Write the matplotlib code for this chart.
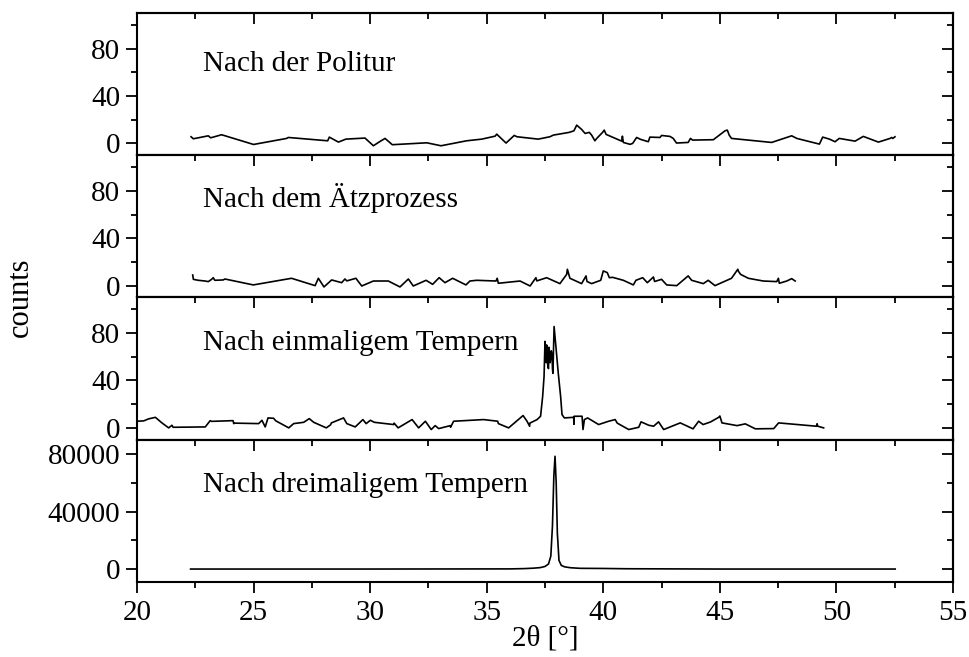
import matplotlib
matplotlib.use('Agg')
import matplotlib.pyplot as plt
from matplotlib.ticker import MultipleLocator, FixedLocator

plt.rcParams['font.family'] = ['Liberation Serif', 'DejaVu Serif']

# Nach der Politur
x1 = [22.32, 22.42, 23.06, 23.16, 23.63, 25.0, 26.42, 26.49, 28.18, 28.25,
      28.64, 28.96, 29.78, 30.14, 30.38, 30.64, 30.95, 32.43, 33.04, 34.14,
      34.79, 35.36, 35.43, 35.83, 36.18, 36.3, 37.21, 37.71, 37.86, 38.54,
      38.74, 38.86, 39.07, 39.22, 39.40, 39.50, 39.64, 39.72, 39.97, 40.04,
      40.12, 40.79, 40.82, 40.86, 41.15, 41.26, 41.43, 41.60, 41.93, 42.0,
      42.43, 42.50, 42.86, 43.0, 43.14, 43.64, 43.74, 43.83, 44.72, 45.22,
      45.32, 45.40, 45.50, 47.22, 48.08, 48.30, 49.27, 49.41, 49.70, 49.94,
      50.12, 50.80, 51.15, 51.3, 51.80, 52.30, 52.37, 52.42, 52.51]
y1 = [5.6, 3.9, 6.4, 4.7, 7.3, -0.9, 4.2, 5.0, 2.2, 5.3,
      1.1, 3.6, 4.5, -2.0, 1.1, 4.2, -1.1, 0.5, -2.0, 2.2,
      3.6, 6.1, 7.8, 0.3, 6.7, 5.6, 3.6, 5.6, 7.0, 9.3,
      10.6, 15.4, 11.8, 8.4, 9.3, 7.0, 2.2, 4.2, 9.3, 11.2,
      7.6, 1.9, 6.1, 0.8, -0.8, 0.0, 5.0, 3.4, 1.4, 5.3,
      5.0, 6.7, 5.9, 4.2, 0.3, 0.8, 4.2, 2.8, 3.1, 10.6,
      11.2, 7.0, 4.2, 0.8, 6.4, 4.2, -0.6, 5.3, 3.6, 1.4,
      4.2, 1.9, 5.9, 4.8, 1.1, 4.2, 5.0, 4.2, 5.6]

# Nach dem Aetzprozess
x2 = [22.39, 22.42, 22.63, 22.92, 23.06, 23.20, 23.27, 23.34, 23.70, 23.77,
      24.99, 26.63, 27.64, 27.78, 28.02, 28.35, 28.78, 28.92, 29.0, 29.39,
      29.64, 30.14, 30.78, 31.28, 31.64, 31.85, 32.40, 32.68, 32.96, 33.21,
      33.54, 34.11, 34.28, 34.57, 35.40, 35.45, 35.50, 36.43, 36.86, 37.11,
      37.15, 37.57, 38.14, 38.43, 38.46, 38.54, 38.57, 39.07, 39.26, 39.3,
      39.50, 39.89, 40.0, 40.17, 40.26, 40.4, 40.86, 41.29, 41.40, 41.69,
      41.89, 42.15, 42.2, 42.50, 42.72, 43.15, 43.64, 43.79, 44.29, 44.50,
      44.79, 45.50, 45.77, 45.8, 45.89, 46.22, 46.86, 47.44, 47.51, 47.55,
      47.87, 48.08, 48.23]
y2 = [9.0, 5.3, 4.5, 3.9, 3.4, 5.3, 6.7, 4.5, 4.8, 5.6,
      0.6, 6.2, 0.0, 6.2, -1.1, 4.8, 2.5, 5.6, 4.0, 6.2,
      -0.3, 3.9, 3.9, -1.1, 5.6, -0.3, 4.5, 1.1, 6.7, 2.5,
      6.2, 0.6, 3.9, 4.5, 3.9, 6.2, 2.0, 3.9, -0.3, 6.7,
      4.0, 6.7, 1.7, 9.5, 13.8, 8.2, 6.2, 1.7, 8.2, 3.5,
      1.7, 4.5, 12.4, 11.0, 6.7, 7.0, 4.5, 0.6, 4.5, 6.7,
      2.5, 7.3, 3.5, 5.3, 0.6, 0.0, 8.2, 4.5, 1.7, 4.5,
      0.0, 6.2, 13.8, 12.0, 9.5, 6.2, 3.9, 3.4, 6.2, 2.0,
      3.9, 5.9, 3.9]

# Nach einmaligem Tempern
x3 = [20.0, 20.29, 20.50, 20.79, 21.07, 21.36, 21.50, 21.55, 22.93, 23.14,
      23.2, 24.12, 24.15, 24.2, 25.22, 25.36, 25.50, 25.62, 25.86, 25.95,
      26.51, 26.72, 27.15, 27.39, 27.58, 28.12, 28.3, 28.34, 28.86, 29.0,
      29.36, 29.69, 29.83, 30.01, 30.18, 31.01, 31.03, 31.20, 31.80, 32.08,
      32.37, 32.62, 32.79, 32.94, 33.44, 33.45, 33.58, 34.87, 35.47, 35.5,
      35.94, 36.56, 36.73, 36.84, 36.85, 37.16, 37.31, 37.40, 37.46, 37.50,
      37.52, 37.55, 37.57, 37.60, 37.62, 37.65, 37.67, 37.70, 37.72, 37.75,
      37.77, 37.80, 37.82, 37.84, 37.89, 37.98, 38.07, 38.17, 38.23, 38.33,
      38.73, 38.74, 38.75, 39.09, 39.13, 39.19, 39.33, 39.80, 40.23, 40.51,
      40.6, 41.09, 41.52, 41.62, 41.95, 42.16, 42.37, 42.59, 43.30, 43.85,
      44.09, 44.28, 44.6, 44.95, 45.0, 45.09, 45.74, 46.09, 46.52, 47.31,
      47.52, 49.14, 49.17, 49.2, 49.45]
y3 = [5.6, 5.9, 7.6, 8.9, 4.2, 0.0, 2.2, 0.5, 0.8, 6.1,
      5.5, 6.1, 3.6, 4.0, 3.6, 6.4, 0.8, 8.4, 8.1, 6.0,
      0.0, 3.6, 4.7, 7.8, 4.7, 0.0, 2.5, 4.2, 8.4, 3.6,
      0.8, 7.0, 3.6, 6.4, 4.7, 2.8, 4.0, 0.0, 7.0, 0.0,
      5.6, -1.4, 1.9, -0.6, 1.9, 0.5, 5.6, 7.0, 5.6, 3.6,
      0.0, 10.4, 5.6, 1.4, 4.0, 7.0, 9.8, 26.6, 43.5, 73.0,
      60, 55, 70, 66, 52, 50, 68, 63, 55, 60,
      65, 62, 50, 46, 85.5, 66, 46, 26.6, 11.2, 8.4,
      8.9, 3.0, 9.8, 9.8, -1.4, 7.0, 8.4, 2.8, 5.6, 7.0,
      4.0, -1.4, 0.5, 5.1, 2.2, 1.4, 5.1, -1.4, 4.2, -0.8,
      5.6, 2.8, 5.0, 8.9, 10.0, 4.2, 1.9, 3.4, -0.8, -0.6,
      4.2, 1.4, 3.5, 1.4, 0.0]

# Nach dreimaligem Tempern
x4 = [22.3, 30.0, 36.0, 36.6, 37.0, 37.3, 37.5, 37.65, 37.75, 37.82,
      37.88, 37.93, 37.98, 38.03, 38.1, 38.2, 38.35, 38.6, 39.0, 40.0,
      41.0, 45.0, 52.52]
y4 = [0, 0, 100, 300, 600, 1000, 1800, 3500, 9000, 30000,
      65000, 78500, 60000, 25000, 6000, 2500, 1500, 900, 500, 400,
      200, 0, 0]

labels = ['Nach der Politur', 'Nach dem Ätzprozess',
          'Nach einmaligem Tempern', 'Nach dreimaligem Tempern']
series = [(x1, y1), (x2, y2), (x3, y3), (x4, y4)]
yticks_major = [[0, 40, 80]] * 3 + [[0, 40000, 80000]]
yticks_minor = [[20, 60, 100]] * 3 + [[20000, 60000]]
ylims = [(-10, 110)] * 3 + [(-9000, 90000)]
label_y = [61, 66, 66, 53600]

fs = 21
fig = plt.figure(figsize=(9.7, 6.57), dpi=100)
axes = fig.subplots(4, 1, sharex=True)
fig.subplots_adjust(left=0.1412, right=0.9825, bottom=0.1142, top=0.9802, hspace=0)

for i, ax in enumerate(axes):
    x, y = series[i]
    ax.plot(x, y, color='black', lw=1.2)
    ax.set_xlim(20, 55)
    ax.set_ylim(*ylims[i])
    ax.yaxis.set_major_locator(FixedLocator(yticks_major[i]))
    ax.yaxis.set_minor_locator(FixedLocator(yticks_minor[i]))
    ax.xaxis.set_major_locator(MultipleLocator(5))
    ax.xaxis.set_minor_locator(MultipleLocator(2.5))
    for sp in ax.spines.values():
        sp.set_linewidth(1.5)
    ax.tick_params(which='both', direction='out', width=1.3, labelsize=fs,
                   top=False, right=False)
    ax.tick_params(which='major', length=8)
    ax.tick_params(which='minor', length=4.5)
    ax.tick_params(axis='y', pad=4)
    if i < 3:
        ax.tick_params(axis='x', labelbottom=False)

    # mirrored ticks pointing inward on top and right
    sx = ax.secondary_xaxis('top')
    sx.xaxis.set_major_locator(MultipleLocator(5))
    sx.xaxis.set_minor_locator(MultipleLocator(2.5))
    sx.tick_params(which='both', direction='in', width=1.3, labeltop=False)
    sx.tick_params(which='major', length=8)
    sx.tick_params(which='minor', length=4.5)
    sx.spines['top'].set_linewidth(1.5)

    sy = ax.secondary_yaxis('right')
    sy.yaxis.set_major_locator(FixedLocator(yticks_major[i]))
    sy.yaxis.set_minor_locator(FixedLocator(yticks_minor[i]))
    sy.tick_params(which='both', direction='in', width=1.3, labelright=False)
    sy.tick_params(which='major', length=8)
    sy.tick_params(which='minor', length=4.5)
    sy.spines['right'].set_linewidth(1.5)

    ax.text(22.85, label_y[i], labels[i], fontsize=fs, va='baseline', ha='left')

axes[-1].tick_params(axis='x', pad=5)
fig.text(20 / 970, 1 - 297 / 657, 'counts', rotation=90, fontsize=22,
         ha='center', va='center')
fig.text(545 / 970, 1 - 638 / 657, '2θ [°]', fontsize=fs, ha='center', va='center')

fig.savefig('out.png', dpi=100)
